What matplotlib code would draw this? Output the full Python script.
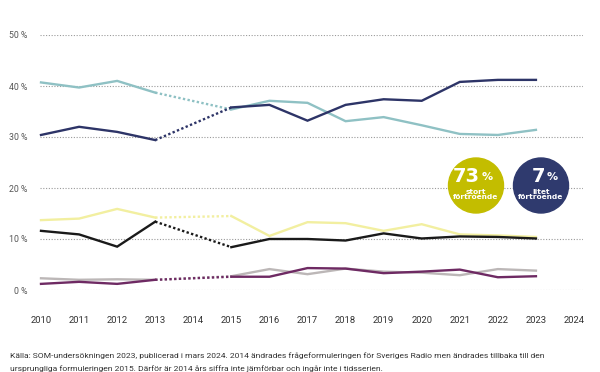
import matplotlib.pyplot as plt
import numpy as np
from matplotlib.patches import Circle

plt.rcParams['font.family'] = ['Liberation Sans Narrow', 'Roboto', 'DejaVu Sans']

years = np.arange(2010, 2024)  # 2010..2023, 2014 is missing (nan)
year_ticks = list(range(2010, 2025))
y_ticks = [0, 10, 20, 30, 40, 50]

nan = np.nan
teal = [40.7, 39.7, 41.0, 38.7, nan, 35.4, 37.1, 36.7, 33.1, 33.9, 32.3, 30.6, 30.4, 31.4]
navy = [30.4, 32.0, 31.0, 29.4, nan, 35.8, 36.3, 33.2, 36.3, 37.4, 37.1, 40.8, 41.2, 41.2]
yellow = [13.7, 14.0, 15.9, 14.2, nan, 14.5, 10.6, 13.3, 13.1, 11.6, 12.9, 10.9, 10.7, 10.4]
black = [11.6, 10.9, 8.5, 13.4, nan, 8.4, 10.0, 10.0, 9.7, 11.1, 10.1, 10.5, 10.4, 10.1]
grey = [2.3, 2.0, 2.1, 2.0, nan, 2.7, 4.1, 3.1, 4.2, 3.6, 3.4, 2.9, 4.1, 3.8]
purple = [1.2, 1.6, 1.2, 2.0, nan, 2.6, 2.6, 4.3, 4.2, 3.3, 3.6, 4.0, 2.5, 2.7]

series = [
    (grey, '#bcb7b7'),
    (purple, '#6e2a63'),
    (yellow, '#f2efa0'),
    (black, '#1a1a1a'),
    (teal, '#8fc1c4'),
    (navy, '#2d3467'),
]

fig = plt.figure(figsize=(6, 3.72), dpi=100)
ax = fig.add_axes([40 / 600, 82 / 372, 543 / 600, 255 / 372])
ax.set_xlim(2010 - 1 / 38.07, 2024 + 9 / 38.07)
ax.set_ylim(0, 50)

for v in y_ticks:
    ax.axhline(v, color='#9a9a9a', lw=0.8, ls=(0, (1, 1.5)), zorder=0)

for vals, col in series:
    vals = np.array(vals)
    ax.plot(years, vals, color=col, lw=1.7, clip_on=False, solid_joinstyle='miter')
    # dotted bridge over 2014
    ax.plot([2013, 2015], [vals[3], vals[5]], color=col, lw=1.7,
            ls=(0, (1, 1)), clip_on=False)

for s in ax.spines.values():
    s.set_visible(False)
ax.set_xticks(year_ticks)
ax.set_xticklabels([str(y) for y in year_ticks], fontsize=6.8, color='#333333')
ax.set_yticks(y_ticks)
ax.set_yticklabels([f'{v} %' for v in y_ticks], fontsize=6.3, color='#555555')
ax.tick_params(axis='x', length=0, pad=19)
ax.tick_params(axis='y', length=0, pad=9)

# badges
for cx, col, big, small in [(476, '#c3bd00', '73', 'stort\nförtroende'),
                            (541, '#2f3a6e', '7', 'litet\nförtroende')]:
    cy = 372 - 185.5
    fig.patches.append(Circle((cx, cy), 27.5, transform=None, color=col))
    fig.text((cx + 4) / 600, (cy + 9) / 372, big, fontsize=14, fontweight='bold',
             color='white', ha='right', va='center', family=['DejaVu Sans'])
    fig.text((cx + 6) / 600, (cy + 8) / 372, '%', fontsize=8, fontweight='bold',
             color='white', ha='left', va='center', family=['DejaVu Sans'])
    fig.text(cx / 600, (cy - 9) / 372, small, fontsize=5.3, fontweight='bold',
             color='white', ha='center', va='center', linespacing=0.95,
             family=['DejaVu Sans'])

line1 = ('Källa: SOM-undersökningen 2023, publicerad i mars 2024. 2014 ändrades '
         'frågeformuleringen för Sveriges Radio men ändrades tillbaka till den')
line2 = ('ursprungliga formuleringen 2015. Därför är 2014 års siffra inte '
         'jämförbar och ingår inte i tidsserien.')
t1 = fig.text(10 / 600, 1 - 356 / 372, line1, fontsize=7.2, color='#333333', va='center')
t2 = fig.text(10 / 600, 1 - 369 / 372, line2, fontsize=7.2, color='#333333', va='center')

# shrink the source note so the first line ends near x=545 px
renderer = fig.canvas.get_renderer()
w = t1.get_window_extent(renderer).width
fs = 7.2 * 535 / w
t1.set_fontsize(fs)
t2.set_fontsize(fs)

fig.savefig('out.png', dpi=100)
